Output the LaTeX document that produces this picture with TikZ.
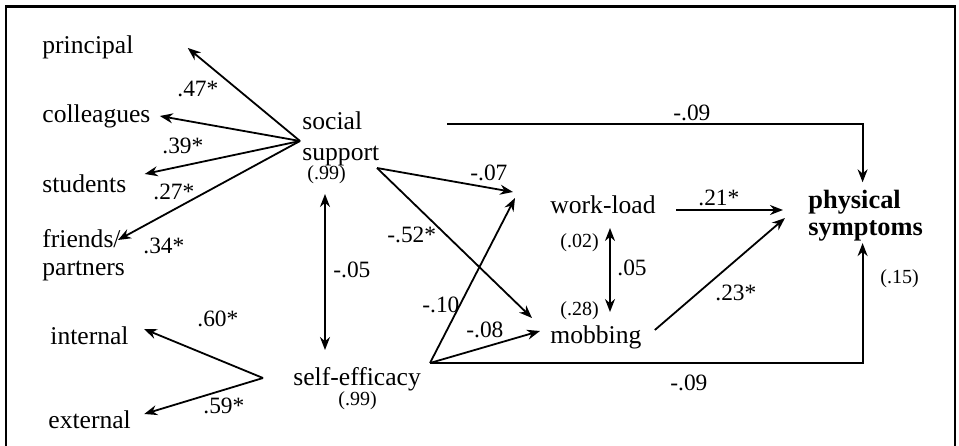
\documentclass[tikz,border=0pt]{standalone}
\usepackage{fontspec}
\setmainfont{Liberation Serif}
\usetikzlibrary{arrows.meta, positioning, calc}

\begin{document}
\begin{tikzpicture}[
    x=0.5pt, y=-0.5pt,
    var/.style={inner sep=0pt, anchor=base west, align=left, font=\fontsize{12.8}{15}\selectfont},
    coef/.style={inner sep=0pt, anchor=base west, font=\fontsize{11.7}{14}\selectfont},
    resid/.style={inner sep=0pt, anchor=base west, font=\fontsize{10}{12}\selectfont},
    arrow/.style={-{Stealth[length=6.5pt, width=5pt]}, line width=0.9pt},
    twoway/.style={{Stealth[length=6.5pt, width=5pt]}-{Stealth[length=6.5pt, width=5pt]}, line width=0.9pt}
]
    \useasboundingbox (0,0) rectangle (959,445);
    % Frame
    \draw[line width=1.2pt] (6,460) -- (6,6.5) -- (955,6.5) -- (955,460);

    % Indicators
    \node[var] (principal) at (42,53) {principal};
    \node[var] (colleagues) at (42,122) {colleagues};
    \node[var] (students) at (42,192) {students};
    \node[var, font=\fontsize{12.8}{14}\selectfont] (friends) at (42,275) {friends/\\partners};
    \node[var] (internal) at (50,344) {internal};
    \node[var] (external) at (48,428) {external};

    % Latent variables
    \node[var, font=\fontsize{12.8}{15.5}\selectfont] (social) at (302,160) {social\\support};
    \node[resid] (socialr) at (307,179) {(.99)};
    \node[var] (selfeff) at (293,385) {self-efficacy};
    \node[resid] (selfeffr) at (338,405) {(.99)};
    \node[var] (workload) at (550,213) {work-load};
    \node[resid] (workloadr) at (560,247) {(.02)};
    \node[var] (mobbing) at (550,343) {mobbing};
    \node[resid] (mobbingr) at (560,315) {(.28)};
    \node[var, font=\fontsize{13.2}{13.5}\selectfont\bfseries] (physical) at (808,235) {physical\\symptoms};
    \node[resid] (physicalr) at (880,283) {(.15)};

    % Branch points
    \coordinate (sfan) at (300,141);
    \coordinate (efan) at (263,378);
    \coordinate (sout) at (377,168);
    \coordinate (stop) at (447,124);
    \coordinate (eout) at (430,363);

    % Loadings
    \draw[arrow] (sfan) -- ($(principal.base east)+(54,-5)$);
    \draw[arrow] (sfan) -- ($(colleagues.base east)+(9,-6)$);
    \draw[arrow] (sfan) -- ($(students.base east)+(18,-18)$);
    \draw[arrow] (sfan) -- ($(friends.base west)+(76,-35)$);
    \draw[arrow] (efan) -- ($(internal.base east)+(15,-15)$);
    \draw[arrow] (efan) -- ($(external.base east)+(13,-14)$);

    % Paths
    \draw[twoway] ($(socialr.base west)+(18,15)$) -- ($(selfeff.base west)+(32,-35)$);
    \draw[arrow] (sout) -- ($(workload.base west)+(-37,-21)$);
    \draw[arrow] (sout) -- ($(mobbing.base west)+(-18,-25)$);
    \draw[arrow] (eout) -- ($(workload.base west)+(-35,-15)$);
    \draw[arrow] (eout) -- ($(mobbing.base west)+(-10,-12)$);
    \draw[arrow] (stop) -| ($(physical.north)+(-3,-7)$);
    \draw[arrow] (eout) -| ($(physical.south)+(-3,2)$);
    \draw[arrow] ($(workload.base east)+(20,-3)$) -- ($(physical.base west)+(-25,-25)$);
    \draw[arrow] ($(mobbing.base east)+(13,-13)$) -- ($(physical.base west)+(-23,-17)$);
    \draw[twoway] ($(workload.base west)+(60,15)$) -- ($(mobbing.base west)+(60,-31)$);

    % Coefficients
    \node[coef] (c1) at (177,96) {.47*};
    \node[coef] (c2) at (162,153) {.39*};
    \node[coef] (c3) at (153,199) {.27*};
    \node[coef] (c4) at (143,253) {.34*};
    \node[coef] (c5) at (197,326) {.60*};
    \node[coef] (c6) at (203,413) {.59*};
    \node[coef] (c7) at (333,277) {-.05};
    \node[coef] (c8) at (387,242) {-.52*};
    \node[coef] (c9) at (422,312) {-.10};
    \node[coef] (c10) at (470,180) {-.07};
    \node[coef] (c11) at (466,337) {-.08};
    \node[coef] (c12) at (673,120) {-.09};
    \node[coef] (c13) at (670,390) {-.09};
    \node[coef] (c14) at (698,205) {.21*};
    \node[coef] (c15) at (715,300) {.23*};
    \node[coef] (c16) at (617,275) {.05};
\end{tikzpicture}
\end{document}
